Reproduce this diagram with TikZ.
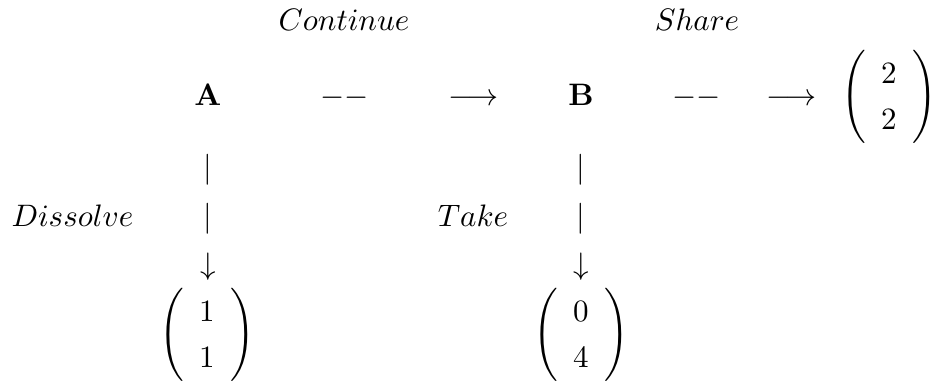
\documentclass[tikz,border=0pt]{standalone}
\usepackage{amsmath}
% two-entry payoff vector
\newcommand{\payoff}[2]{%
  {\renewcommand{\arraystretch}{1.25}\delimitershortfall=-2pt%
   \left(\begin{array}{c}#1\\#2\end{array}\right)}}
\begin{document}
\begin{tikzpicture}[x=0.01302cm,y=-0.01302cm,
  lbl/.style={inner sep=0pt,anchor=base,scale=1.15},
  every node/.style={lbl}]
  \clip (0,0) rectangle (935,383);
  \useasboundingbox (0,0) rectangle (935,383);
  % move labels
  \node (cont) at (344,30) {$Continue$};
  \node (share) at (697,30) {$Share$};
  % decision nodes and horizontal moves
  \node (A) at (208,105) {$\mathbf{A}$};
  \node (d1) at (345,105) {$--$};
  \node (r1) at (473.5,105) {$\longrightarrow$};
  \node (B) at (581,105) {$\mathbf{B}$};
  \node (d2) at (697,105) {$--$};
  \node (r2) at (791.5,105) {$\longrightarrow$};
  \node (p3) at (889,105) {$\payoff{2}{2}$};
  % vertical moves
  \node (a1) at (208,177) {$|$};
  \node (a2) at (208,226) {$|$};
  \node (a3) at (208,274) {$\downarrow$};
  \node (b1) at (581,177) {$|$};
  \node (b2) at (581,226) {$|$};
  \node (b3) at (581,274) {$\downarrow$};
  \node (diss) at (72.5,226) {$Dissolve$};
  \node (take) at (473,226) {$Take$};
  % payoffs
  \node (p1) at (207,343) {$\payoff{1}{1}$};
  \node (p2) at (581,343) {$\payoff{0}{4}$};
\end{tikzpicture}
\end{document}
